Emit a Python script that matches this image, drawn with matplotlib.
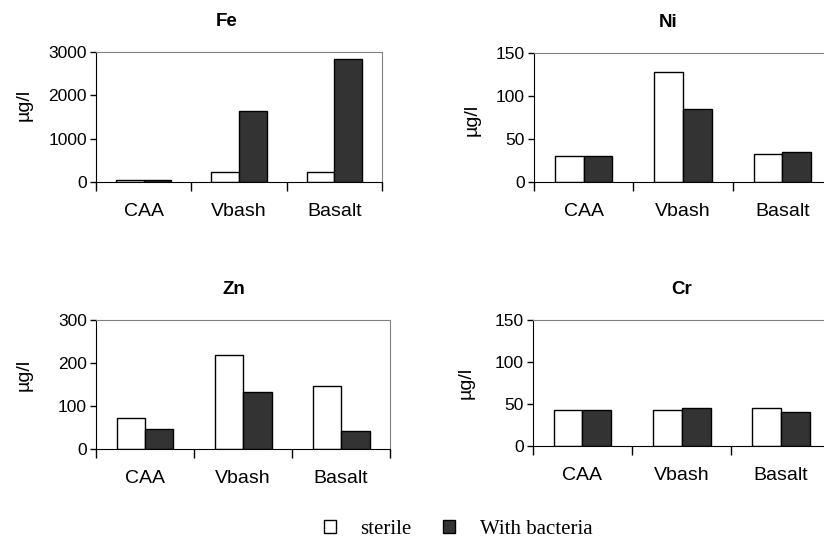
import matplotlib.pyplot as plt
from matplotlib.patches import Patch
import numpy as np

plt.rcParams['font.family'] = ['Liberation Sans', 'DejaVu Sans']

# Data
sites = ['CAA', 'Vbash', 'Basalt']
fe_sterile = [40, 225, 225]
fe_bacteria = [45, 1640, 2830]
ni_sterile = [30, 128, 32]
ni_bacteria = [30, 85, 35]
zn_sterile = [73, 219, 146]
zn_bacteria = [47, 134, 43]
cr_sterile = [42, 42, 44.5]
cr_bacteria = [42, 44.5, 40]

fig = plt.figure(figsize=(8.24, 5.43), dpi=100)

# panel: title, sterile, bacteria, ymax, yticks, axes rect, ylabel coords, title x
panels = [
    ('Fe', fe_sterile, fe_bacteria, 3000, [0, 1000, 2000, 3000],
     [0.1165, 0.6648, 0.347, 0.2394], (-0.22, 0.59), 0.458),
    ('Ni', ni_sterile, ni_bacteria, 150, [0, 50, 100, 150],
     [0.648, 0.6648, 0.3617, 0.2376], (-0.18, 0.48), 0.45),
    ('Zn', zn_sterile, zn_bacteria, 300, [0, 100, 200, 300],
     [0.1165, 0.1726, 0.357, 0.238], (-0.214, 0.575), 0.47),
    ('Cr', cr_sterile, cr_bacteria, 150, [0, 50, 100, 150],
     [0.6465, 0.1792, 0.3617, 0.2315], (-0.194, 0.50), 0.50),
]

x = np.arange(len(sites)) + 0.5
w = 0.29

for title, sterile, bacteria, ymax, yticks, rect, lab, tx in panels:
    ax = fig.add_axes(rect)
    ax.bar(x - w / 2, sterile, w, color='white', edgecolor='black', linewidth=1)
    ax.bar(x + w / 2, bacteria, w, color='#333333', edgecolor='black', linewidth=1)

    ax.set_xlim(0, 3)
    ax.set_ylim(0, ymax)
    ax.set_yticks(yticks)
    ax.tick_params(axis='y', direction='out', length=4.5, width=1, labelsize=12.5, pad=2)

    # category labels in the middle, tick marks on the boundaries
    ax.set_xticks(x)
    ax.set_xticklabels(sites, fontsize=14)
    ax.tick_params(axis='x', which='major', length=0, pad=15)
    ax.set_xticks([0, 1, 2, 3], minor=True)
    ax.tick_params(axis='x', which='minor', direction='out', length=6.5, width=1)

    for s in ['top', 'right']:
        ax.spines[s].set_color('#808080')
    for s in ['left', 'bottom']:
        ax.spines[s].set_color('black')

    ax.set_title(title, fontsize=13.5, fontweight='bold', pad=19, x=tx)
    ax.set_ylabel('µg/l', fontsize=14)
    ax.yaxis.set_label_coords(*lab)

# Shared legend at the bottom
handles = [Patch(facecolor='white', edgecolor='black', linewidth=1),
           Patch(facecolor='#333333', edgecolor='black', linewidth=1)]
fig.legend(handles, ['sterile', 'With bacteria'], loc='center',
           bbox_to_anchor=(0.556, 0.025), ncol=2, frameon=False,
           prop={'family': 'Liberation Serif', 'size': 15},
           handlelength=0.55, handleheight=0.55, columnspacing=1.5, handletextpad=1.2)

plt.savefig('out.png', dpi=100)
